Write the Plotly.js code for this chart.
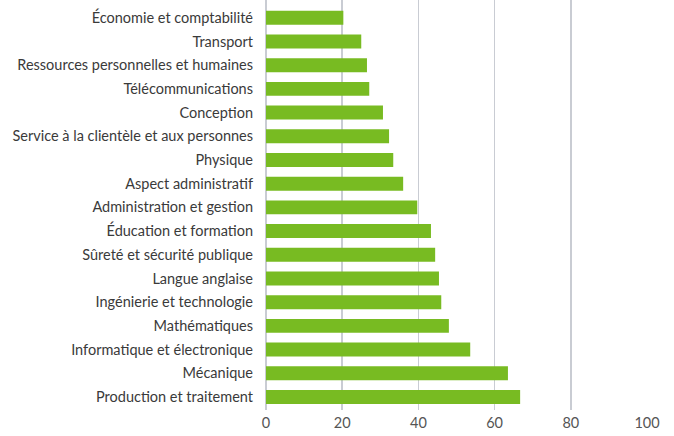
<!DOCTYPE html>
<html>
<head>
<meta charset="utf-8">
<script src="https://cdn.plot.ly/plotly-3.0.1.min.js"></script>
<style>html,body{margin:0;padding:0;background:#fff;}#chart{width:674px;height:436px;}</style>
</head>
<body>
<div id="chart"></div>
<script>
const categories = [
  "Production et traitement",
  "Mécanique",
  "Informatique et électronique",
  "Mathématiques",
  "Ingénierie et technologie",
  "Langue anglaise",
  "Sûreté et sécurité publique",
  "Éducation et formation",
  "Administration et gestion",
  "Aspect administratif",
  "Physique",
  "Service à la clientèle et aux personnes",
  "Conception",
  "Télécommunications",
  "Ressources personnelles et humaines",
  "Transport",
  "Économie et comptabilité"
];
const values = [66.7, 63.5, 53.6, 48.0, 46.0, 45.4, 44.4, 43.3, 39.7, 36.0, 33.4, 32.3, 30.7, 27.1, 26.5, 25.0, 20.3];
const xTicks = [0, 20, 40, 60, 80, 100];

const trace = {
  type: "bar",
  orientation: "h",
  x: values,
  y: categories,
  marker: {color: "#78BB22"},
  hoverinfo: "x+y"
};

const layout = {
  width: 674,
  height: 436,
  margin: {l: 266, r: 27, t: 0, b: 26},
  paper_bgcolor: "#ffffff",
  plot_bgcolor: "#ffffff",
  bargap: 0.41,
  showlegend: false,
  font: {family: "Lato, 'Open Sans', sans-serif", size: 14.5, color: "#3a3a3a"},
  xaxis: {
    range: [0, 100],
    tickvals: xTicks,
    ticktext: xTicks.map(String),
    showgrid: true,
    gridcolor: "#c9ccd3",
    gridwidth: 1.5,
    zeroline: true,
    zerolinecolor: "#c9ccd3",
    zerolinewidth: 1.5,
    showline: false,
    ticks: "",
    ticklabelstandoff: 2,
    tickfont: {size: 14.5, color: "#555555"},
    fixedrange: true
  },
  yaxis: {
    type: "category",
    range: [-0.55, 16.75],
    showgrid: false,
    zeroline: false,
    showline: false,
    ticks: "",
    ticklabelstandoff: 12,
    tickfont: {size: 14.5, color: "#3a3a3a"},
    automargin: false,
    fixedrange: true
  }
};

Plotly.newPlot("chart", [trace], layout, {displayModeBar: false, staticPlot: true});
</script>
</body>
</html>
